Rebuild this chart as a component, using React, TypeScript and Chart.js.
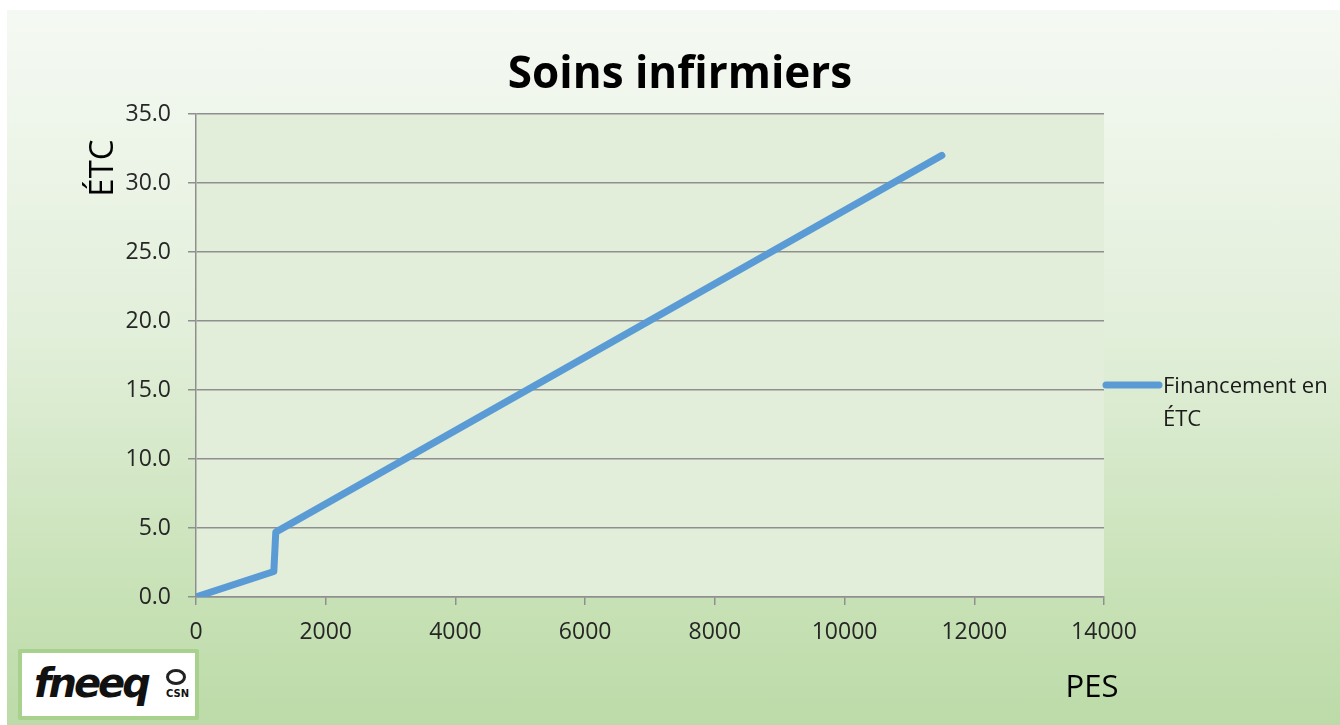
import React, { useEffect, useRef } from "react";
import { Chart, registerables } from "chart.js";

Chart.register(...registerables);

const chartTitle = "Soins infirmiers";
const yAxisTitle = "ÉTC";
const xAxisTitle = "PES";
const seriesLabel = "Financement en ÉTC";
const legendLines = ["Financement en", "ÉTC"];
const pesValues = [0, 1200, 1230, 11500];
const etcValues = [0, 1.85, 4.7, 32.0];
const xTicksMax = 14000;
const yTicksMax = 35;

const FONT = "'Open Sans', 'Noto Sans', sans-serif";
const LINE_COLOR = "#5b9bd5";
const GRID_COLOR = "#8f8f8f";

const decorPlugin = {
  id: "decor",
  beforeDraw(chart: any) {
    const { ctx, chartArea } = chart;
    ctx.save();
    ctx.fillStyle = "#e2eed9";
    ctx.fillRect(chartArea.left, chartArea.top, chartArea.right - chartArea.left, chartArea.bottom - chartArea.top);
    ctx.restore();
  },
  afterDraw(chart: any) {
    const { ctx } = chart;
    ctx.save();
    // title
    ctx.fillStyle = "#000";
    ctx.font = `bold 44px ${FONT}`;
    ctx.textAlign = "center";
    ctx.textBaseline = "alphabetic";
    ctx.fillText(chartTitle, 673, 78);
    // y title
    ctx.save();
    ctx.translate(106, 158);
    ctx.rotate(-Math.PI / 2);
    ctx.font = `33px ${FONT}`;
    ctx.fillText(yAxisTitle, 0, 0);
    ctx.restore();
    // x title
    ctx.font = `31px ${FONT}`;
    ctx.textAlign = "center";
    ctx.fillText(xAxisTitle, 1085, 687);
    // legend
    const ds = chart.data.datasets[0];
    ctx.strokeStyle = ds.borderColor;
    ctx.lineWidth = 7;
    ctx.lineCap = "round";
    ctx.beginPath();
    ctx.moveTo(1099, 375);
    ctx.lineTo(1152, 375);
    ctx.stroke();
    ctx.fillStyle = "#1a1a1a";
    ctx.font = `22px ${FONT}`;
    ctx.textAlign = "left";
    ctx.fillText(legendLines[0], 1156, 383);
    ctx.fillText(legendLines[1], 1156, 416);
    ctx.restore();
  },
};

function ChartView() {
  const ref = useRef<HTMLCanvasElement | null>(null);
  useEffect(() => {
    if (!ref.current) return;
    const data = pesValues.map((x, i) => ({ x, y: etcValues[i] }));
    const chart = new Chart(ref.current, {
      type: "line",
      data: {
        datasets: [
          {
            label: seriesLabel,
            data,
            borderColor: LINE_COLOR,
            backgroundColor: LINE_COLOR,
            borderWidth: 7,
            pointRadius: 0,
            borderCapStyle: "round",
            borderJoinStyle: "round",
            tension: 0,
          },
        ],
      },
      plugins: [decorPlugin],
      options: {
        animation: false,
        responsive: false,
        devicePixelRatio: 1,
        layout: { padding: { left: 0, top: 104, right: 236, bottom: 0 } },
        plugins: { legend: { display: false }, title: { display: false }, tooltip: { enabled: false } },
        scales: {
          x: {
            type: "linear",
            min: 0,
            max: xTicksMax,
            afterFit: (s: any) => {
              s.height = 128;
            },
            ticks: {
              stepSize: 2000,
              color: "#262626",
              font: { family: FONT, size: 23 },
              padding: 14,
              maxRotation: 0,
              callback: (v: any) => String(v),
            },
            grid: { drawOnChartArea: false, drawTicks: true, tickLength: 8, color: GRID_COLOR, lineWidth: 1.5 },
            border: { display: true, color: GRID_COLOR, width: 1.5 },
          },
          y: {
            min: 0,
            max: yTicksMax,
            afterFit: (s: any) => {
              s.width = 189;
            },
            ticks: {
              stepSize: 5,
              color: "#262626",
              font: { family: FONT, size: 23 },
              padding: 17,
              callback: (v: any) => Number(v).toFixed(1),
            },
            grid: { drawOnChartArea: true, drawTicks: true, tickLength: 8, color: GRID_COLOR, lineWidth: 1.5 },
            border: { display: true, color: GRID_COLOR, width: 1.5 },
          },
        },
      },
    });
    return () => chart.destroy();
  }, []);
  return <canvas ref={ref} width={1333} height={715} style={{ display: "block" }} />;
}

export default function App() {
  return (
    <div>
      <div
        style={{
          position: "fixed",
          left: 7,
          top: 10,
          width: 1333,
          height: 715,
          background: "linear-gradient(to bottom, #f5f9f3 0%, #e2efda 45%, #c9e2b8 80%, #bcdba8 100%)",
          overflow: "hidden",
        }}
      >
        <ChartView />
      </div>
      <div
        style={{
          position: "fixed",
          left: 18,
          top: 649,
          width: 181,
          height: 71,
          boxSizing: "border-box",
          border: "4px solid #a9d18e",
          background: "#ffffff",
          borderRadius: 2,
        }}
      >
        <span
          style={{
            position: "absolute",
            left: 12,
            top: 4,
            fontFamily: "'DejaVu Sans', sans-serif",
            fontWeight: "bold",
            fontStyle: "italic",
            fontSize: 40,
            letterSpacing: -3,
            color: "#111",
            lineHeight: "52px",
          }}
        >
          fneeq
        </span>
        <span
          style={{
            position: "absolute",
            left: 144,
            top: 16,
            width: 20,
            height: 16,
            borderRadius: "50%",
            border: "3px solid #222",
            boxSizing: "border-box",
          }}
        />
        <span
          style={{
            position: "absolute",
            left: 144,
            top: 35,
            fontFamily: "'DejaVu Sans', sans-serif",
            fontWeight: "bold",
            fontSize: 10,
            color: "#111",
          }}
        >
          CSN
        </span>
      </div>
    </div>
  );
}
